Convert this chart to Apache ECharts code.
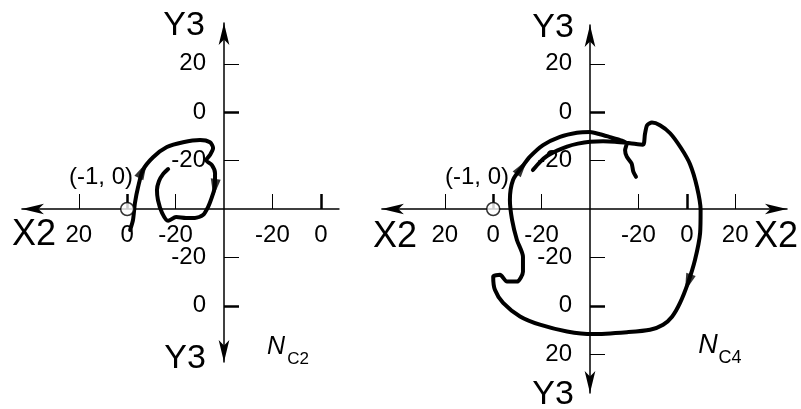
<!DOCTYPE html>
<html>
<head>
<meta charset="utf-8">
<script src="https://cdn.jsdelivr.net/npm/echarts@6/dist/echarts.min.js"></script>
<style>
html, body { margin: 0; padding: 0; background: #ffffff; }
#box { width: 801px; height: 409px; }
</style>
</head>
<body>
<div id="box"></div>
<script>
// tick positions and the printed tick labels
const leftTickX = [-60, -40, -20, 20, 40]
const leftTickXLabels = ["20", "0", "-20", "-20", "0"]
const leftTickY = [60, 40, 20, -20, -40]
const leftTickYLabels = ["20", "0", "-20", "-20", "0"]
const rightTickX = [-60, -40, -20, 20, 40, 60]
const rightTickXLabels = ["20", "0", "-20", "-20", "0", "20"]
const rightTickY = [60, 40, 20, -20, -40, -60]
const rightTickYLabels = ["20", "0", "-20", "-20", "0", "20"]
const boldTicks = [-40, 40]

// (-1, 0) point
const criticalPoint = [[-40, 0]]

// N_C2 locus
const nc2Curve = [
	[-38.8, -8.7], [-37.6, -4.5], [-36.8, 2.5], [-35.5, 9.1], [-33.5, 16.1],
	[-29.3, 21.4], [-23.6, 25.6], [-16.9, 27.6], [-9.9, 28.5], [-5.8, 27.6],
	[-4.5, 25.2], [-5.8, 22.3], [-7.4, 20.2], [-5.0, 18.1], [-3.7, 14.8],
	[-3.9, 8.7], [-5.0, 4.9], [-6.6, 0.8], [-8.7, -2.5], [-12.0, -3.7],
	[-15.7, -3.7], [-19.8, -3.3], [-23.1, -4.9], [-25.6, -1.6], [-27.3, 3.7],
	[-27.7, 7.8], [-26.9, 11.5], [-25.2, 14.4], [-23.1, 16.5],
]
const nc2ArrowIdx = [4, 15]

// N_C4 locus
const nc4Curve = [
	[-23.6, 16.1], [-20.7, 19.4], [-17.8, 21.9], [-13.6, 24.1], [-9.5, 25.8],
	[-5.0, 27.0], [0, 27.8], [5.4, 28.0], [10.3, 27.8], [16.5, 27.2],
	[21.9, 26.6], [22.7, 30.9], [23.6, 34.6], [25.6, 35.7], [28.9, 34.6],
	[33.1, 31.3], [37.6, 25.2], [41.3, 18.6], [44.2, 9.1], [45.7, -0.4],
	[45.5, -9.9], [43.4, -21.0], [40.5, -30.5], [37.2, -38.8], [33.9, -44.5],
	[30.2, -47.8], [24.8, -49.9], [15.3, -50.9], [1.2, -51.7], [-9.5, -50.6],
	[-20.7, -47.8], [-28.9, -44.4], [-35.9, -38.8], [-39.3, -33.4], [-40.0, -28.0],
	[-37.2, -27.2], [-34.3, -30.0], [-30.2, -30.0], [-27.7, -25.9], [-27.7, -19.7],
	[-30.2, -12.8], [-32.2, -4.5], [-33.1, 3.7], [-31.8, 12.0], [-28.1, 17.3],
	[-24.8, 21.6], [-19.4, 26.4], [-12.4, 29.8], [-5.4, 31.5], [0, 31.8],
	[4.1, 30.9], [8.3, 29.7], [12.4, 28.5], [15.2, 27.1], [14.5, 24.3],
	[15.2, 21.6], [17.2, 18.8], [17.9, 15.4], [19.0, 13.3],
]
const nc4ArrowIdx = [22, 44]

// axis ranges
const leftRangeX = [-83.5, 47.5]
const leftRangeY = [-63.2, 76.9]
const rightRangeX = [-86, 81.4]
const rightRangeY = [-76, 76]

const FONT = "Liberation Sans, Arial, sans-serif"
const PX = 2.42 // pixels per unit

function gridFor(cx, cy, rx, ry) {
	return {
		left: cx + rx[0] * PX,
		width: (rx[1] - rx[0]) * PX,
		top: cy - ry[1] * PX,
		height: (ry[1] - ry[0]) * PX,
		outerBoundsMode: "none",
		containLabel: false,
	}
}

// axes sit on the other axis' zero, moved there with offset
function mainAxis(gi, range, other, ticks, labels, symbols, isX) {
	return {
		type: "value",
		gridIndex: gi,
		min: range[0],
		max: range[1],
		position: isX ? "bottom" : "left",
		offset: other[0] * PX,
		axisLine: {
			onZero: false,
			symbol: symbols,
			symbolSize: [8, 22],
			lineStyle: { color: "#000", width: 1.5 },
		},
		axisTick: {
			inside: true,
			length: 15,
			customValues: ticks,
			lineStyle: { color: "#000", width: 1 },
		},
		axisLabel: {
			customValues: ticks,
			formatter: (v) => labels[ticks.indexOf(v)],
			margin: isX ? 14 : 18,
			fontSize: 24,
			fontFamily: FONT,
			color: "#000",
		},
		splitLine: { show: false },
	}
}

function boldAxis(gi, range, other, isX) {
	return {
		type: "value",
		gridIndex: gi,
		min: range[0],
		max: range[1],
		position: isX ? "bottom" : "left",
		offset: other[0] * PX,
		axisLine: { show: false, onZero: false },
		axisTick: {
			inside: true,
			length: 15,
			customValues: boldTicks,
			lineStyle: { color: "#000", width: 2.5 },
		},
		axisLabel: { show: false },
		splitLine: { show: false },
	}
}

function arrows(curve, idx) {
	return idx.map((i) => {
		let a = curve[i - 1], b = curve[i + 1]
		let ang = (Math.atan2(b[1] - a[1], b[0] - a[0]) * 180) / Math.PI - 90
		return { value: curve[i], symbolRotate: ang }
	})
}

function text(str, x, y, size, extra) {
	return {
		type: "text",
		x: x,
		y: y,
		style: Object.assign({
			text: str,
			fontSize: size,
			fontFamily: FONT,
			fill: "#000",
			align: "center",
			verticalAlign: "middle",
		}, extra || {}),
	}
}

let lineStyle = { color: "#000", width: 4, cap: "round", join: "round" }
let arrowStyle = { symbol: "triangle", symbolSize: [10, 18], itemStyle: { color: "#000" } }
let pointStyle = {
	symbol: "circle", symbolSize: 13, z: 5,
	itemStyle: { color: "#fff", borderColor: "#000", borderWidth: 1.5 },
}

let myCharts = echarts.init(document.getElementById("box"))
let option = {
	animation: false,
	backgroundColor: "#ffffff",
	grid: [
		gridFor(224, 209, leftRangeX, leftRangeY),
		gridFor(590, 209, rightRangeX, rightRangeY),
	],
	xAxis: [
		mainAxis(0, leftRangeX, leftRangeY, leftTickX, leftTickXLabels, ["arrow", "none"], true),
		boldAxis(0, leftRangeX, leftRangeY, true),
		mainAxis(1, rightRangeX, rightRangeY, rightTickX, rightTickXLabels, ["arrow", "arrow"], true),
		boldAxis(1, rightRangeX, rightRangeY, true),
	],
	yAxis: [
		mainAxis(0, leftRangeY, leftRangeX, leftTickY, leftTickYLabels, ["arrow", "arrow"], false),
		boldAxis(0, leftRangeY, leftRangeX, false),
		mainAxis(1, rightRangeY, rightRangeX, rightTickY, rightTickYLabels, ["arrow", "arrow"], false),
		boldAxis(1, rightRangeY, rightRangeX, false),
	],
	series: [
		{
			type: "line", xAxisIndex: 0, yAxisIndex: 0,
			data: nc2Curve, showSymbol: false, smooth: 0.25, lineStyle: lineStyle,
		},
		Object.assign({ type: "scatter", xAxisIndex: 0, yAxisIndex: 0, data: arrows(nc2Curve, nc2ArrowIdx) }, arrowStyle),
		Object.assign({ type: "scatter", xAxisIndex: 0, yAxisIndex: 0, data: criticalPoint }, pointStyle),
		{
			type: "line", xAxisIndex: 2, yAxisIndex: 2,
			data: nc4Curve, showSymbol: false, smooth: 0.25, lineStyle: lineStyle,
		},
		Object.assign({ type: "scatter", xAxisIndex: 2, yAxisIndex: 2, data: arrows(nc4Curve, nc4ArrowIdx) }, arrowStyle),
		Object.assign({ type: "scatter", xAxisIndex: 2, yAxisIndex: 2, data: criticalPoint }, pointStyle),
	],
	graphic: [
		text("Y3", 184, 26, 34),
		text("Y3", 185, 359, 34),
		text("X2", 34, 235, 36),
		text("(-1, 0)", 101, 177, 24),
		text("N", 276, 347, 25, { fontStyle: "italic" }),
		text("C2", 298, 359, 17),
		text("Y3", 553, 28, 34),
		text("Y3", 553, 395, 34),
		text("X2", 395, 237, 36),
		text("X2", 776, 237, 36),
		text("(-1, 0)", 477, 177, 24),
		text("N", 708, 345, 27, { fontStyle: "italic" }),
		text("C4", 730, 358, 18),
	],
}
myCharts.setOption(option)
</script>
</body>
</html>
